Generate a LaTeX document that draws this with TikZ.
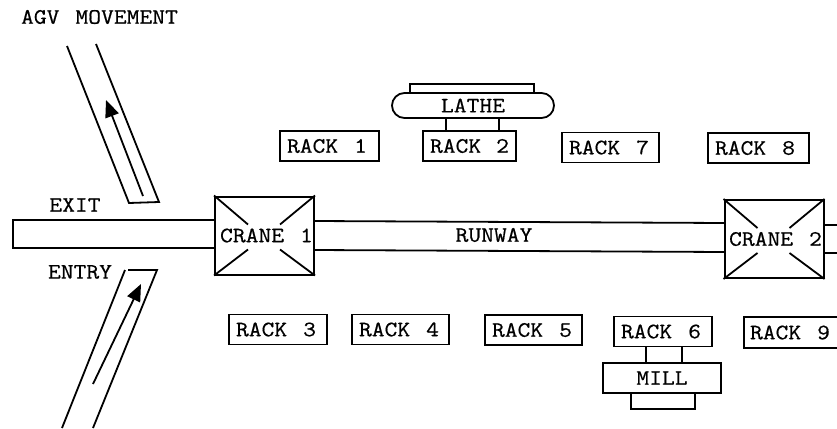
\documentclass[tikz,border=0pt]{standalone}
\usepackage{fontspec}
\setmainfont[FakeStretch=1.13,FakeBold=0.6,WordSpace=1.25]{Latin Modern Mono}
\usetikzlibrary{shapes.misc,arrows.meta}
\newcommand{\rackname}[1]{\spaceskip=0pt\relax RACK #1}
\tikzset{
	lbl/.style={inner sep=0pt,font=\fontsize{22}{24}\selectfont},
	rackbox/.style={lbl,draw,line width=1.8pt,minimum height=30pt,inner xsep=7pt,align=left},
	cranebox/.style={lbl,draw,fill=white,line width=2pt,minimum width=99pt,minimum height=78pt},
	flow/.style={-{Triangle[length=17pt,width=14pt]},line width=1.8pt},
}
\begin{document}
\begin{tikzpicture}[x=1pt,y=-1pt,line width=1.8pt]
	\useasboundingbox (0,0) rectangle (837,428);
	\path
	(67,46) coordinate (UA)
	(96,44) coordinate (UB)
	(129,203) coordinate (UC)
	(159,202) coordinate (UD)
	(143,196) coordinate (UE)
	(106,100) coordinate (UF)
	(125,270) coordinate (LA)
	(128,270) coordinate (LB)
	(157,270) coordinate (LC)
	(62,428) coordinate (LD)
	(93,428) coordinate (LE)
	(93,384) coordinate (LF)
	(141,284) coordinate (LG)
	(13,220) coordinate (EA)
	(13,248) coordinate (EB)
	(314,221) coordinate (RA)
	(314,250) coordinate (RB)
	(725,223) coordinate (RC)
	(725,252) coordinate (RD)
	(823,225) coordinate (RE)
	(823,253) coordinate (RF)
	(837,225) coordinate (RG)
	(837,253) coordinate (RH)
	(215,220) coordinate (EC)
	(215,248) coordinate (ED)
	(446,118) coordinate (TA)
	(499,118) coordinate (TB)
	(446,131) coordinate (TC)
	(499,131) coordinate (TD)
	(646,347) coordinate (MA)
	(682,347) coordinate (MB)
	(646,363) coordinate (MC)
	(682,363) coordinate (MD)
	;
	\node[cranebox] (crane1) at (264.5,235.5) {\kern4pt CRANE 1};
	\node[cranebox] (crane2) at (774,239) {\kern3pt CRANE 2};
	\draw (UA)--(UC)--(UD)--(UB);
	\draw[flow] (UE)--(UF);
	\draw (LD)--(LA);
	\draw (LB)--(LC)--(LE);
	\draw[flow] (LF)--(LG);
	\draw (EC)--(EA)--(EB)--(ED);
	\draw (RA)--(RC);
	\draw (RB)--(RD);
	\draw (RE)--(RG);
	\draw (RF)--(RH);
	\foreach \c in {crane1,crane2}{
		\draw (\c.north west)--+(34,29);
		\draw (\c.north east)--+(-35,29);
		\draw (\c.south west)--+(34,-26);
		\draw (\c.south east)--+(-35,-26);
	}
	\foreach \n/\x/\y/\w in {1/329.5/146/85,2/469.5/146/79,7/610.5/147.5/83,8/758.5/148/87,3/278/329.5/84,4/400.5/329.5/83,5/533.5/330/83,6/663/331.5/84}
	\node[rackbox,text width=\w pt] (rack\n) at (\x,\y) {\rackname{\n}};
	\node[lbl] (rack9) at (790,332.5) {RACK 9};
	\draw (837,317)--(744,317)--(744,348)--(837,348);
	\node[lbl] (agv) at (99.5,17) {AGV MOVEMENT};
	\node[lbl] (exit) at (75,205) {EXIT};
	\node[lbl] (entry) at (80,272) {ENTRY};
	\node[lbl] (runway) at (494,235) {RUNWAY};
	\node[rounded rectangle,draw,lbl,line width=1.8pt,minimum width=162pt,minimum height=25pt] (lathe) at (473,105.5) {LATHE};
	\draw (410,93)--(410,84)--(534,84)--(534,93);
	\draw (TA)--(TC);
	\draw (TB)--(TD);
	\node[rackbox,minimum width=118pt,align=center] (mill) at (662,378) {MILL};
	\draw (631,393)--(631,409)--(695,409)--(695,393);
	\draw (MA)--(MC);
	\draw (MB)--(MD);
\end{tikzpicture}
\end{document}
